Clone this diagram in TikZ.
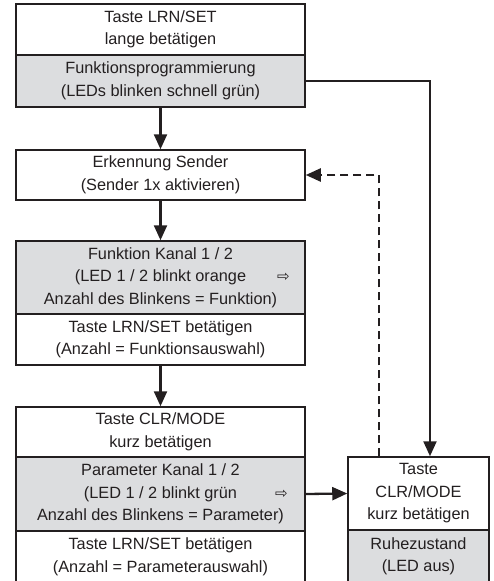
\documentclass[tikz,border=0pt]{standalone}
\usepackage{fontspec}
\setmainfont{Liberation Sans}
\newfontfamily\symf{DejaVu Sans}
\usetikzlibrary{arrows.meta}
\definecolor{ink}{HTML}{231F20}
\definecolor{boxgrey}{HTML}{DCDDDF}
\newcommand{\rarr}[1]{\rlap{\hspace{#1}{\symf\fontsize{15}{15}\selectfont ⇨}}}
\begin{document}
\begin{tikzpicture}[x=1pt,y=-1pt,
  sec/.style={draw=ink, line width=1.5pt, minimum width=289pt, inner sep=0pt, align=center,
    font=\fontsize{16.3}{22.5}\selectfont, text=ink},
  rsec/.style={sec, minimum width=141pt},
  grey/.style={fill=boxgrey},
  white/.style={fill=white},
  arr/.style={draw=ink, line width=2.3pt, -{Triangle[length=15pt,width=13pt]}},
  darr/.style={arr, dash pattern=on 8pt off 5pt}]
\useasboundingbox (0,0) rectangle (493,581);
% left column
\node[sec, white, minimum height=51pt] (b1a) at (160.5,29.5) {Taste LRN/SET\\lange betätigen};
\node[sec, grey, minimum height=52pt] (b1b) at (160.5,81) {Funktionsprogrammierung\\ (LEDs blinken schnell grün)};
\node[sec, white, minimum height=50pt] (b2) at (160.5,175) {Erkennung Sender\\(Sender 1x aktivieren)};
\node[sec, grey, minimum height=73pt] (b3a) at (160.5,277.5) {Funktion Kanal 1 / 2\\(LED 1 / 2 blinkt orange\rarr{31pt}\hspace{30pt}\\Anzahl des Blinkens = Funktion)};
\node[sec, white, minimum height=51pt] (b3b) at (160.5,339.5) {Taste LRN/SET betätigen\\(Anzahl = Funktionsauswahl)};
\node[sec, white, minimum height=50pt] (b4a) at (160.5,432) {Taste CLR/MODE\\kurz betätigen};
\node[sec, grey, minimum height=74pt] (b4b) at (160.5,494) {Parameter Kanal 1 / 2\\(LED 1 / 2 blinkt grün\rarr{38pt}\\Anzahl des Blinkens = Parameter)};
\node[sec, white, minimum height=52pt] (b4c) at (160.5,557) {Taste LRN/SET betätigen\\(Anzahl = Parameterauswahl)};
% right column
\node[rsec, white, minimum height=73pt] (r1) at (418.5,493.5) {Taste\\CLR/MODE\\kurz betätigen};
\node[rsec, grey, minimum height=53pt] (r2) at (418.5,556.5) {Ruhezustand\\ (LED aus)};
% connectors
\draw[arr] (b1b.south) -- (b2.north);
\draw[arr] (b2.south) -- (b3a.north);
\draw[arr] (b3b.south) -- (b4a.north);
\draw[arr] (b4b.east) -- (r1.west);
\draw[arr] (b1b.east) -| ([xshift=11.5pt]r1.north);
\draw[darr] ([xshift=-39.5pt]r1.north) |- (b2.east);
\end{tikzpicture}
\end{document}
